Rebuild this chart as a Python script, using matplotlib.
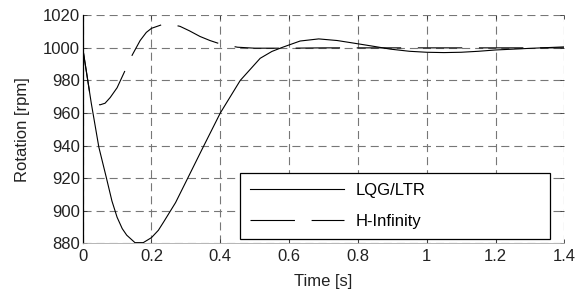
import matplotlib
matplotlib.use('Agg')
import matplotlib.pyplot as plt

plt.rcParams['font.family'] = ['Liberation Sans', 'DejaVu Sans']
plt.rcParams['lines.scale_dashes'] = False

# LQG/LTR response
t_lqg = [0, 0.025, 0.047, 0.068, 0.085, 0.1, 0.115, 0.128, 0.152, 0.176, 0.2, 0.22,
         0.235, 0.27, 0.303, 0.35, 0.4, 0.458, 0.516, 0.55, 0.579, 0.632, 0.686,
         0.74, 0.797, 0.85, 0.895, 0.95, 1.0, 1.05, 1.1, 1.15, 1.2, 1.3, 1.4]
rpm_lqg = [1000, 966, 939, 921, 906, 896, 889, 885, 880.4, 880.4, 883.5, 888,
           893, 905, 919, 939, 960, 980, 993.6, 997.8, 1000.2, 1004.2, 1005.5,
           1004.5, 1002.6, 1000.8, 999.2, 997.9, 997.3, 997.1, 997.3, 997.9, 998.7, 999.7, 1000.6]

# H-Infinity response
t_hinf = [0, 0.02, 0.035, 0.05, 0.065, 0.08, 0.1, 0.123, 0.144, 0.167, 0.185, 0.2,
          0.234, 0.26, 0.283, 0.31, 0.341, 0.37, 0.4, 0.45, 0.5, 0.6, 0.7, 0.8,
          1.0, 1.2, 1.4]
rpm_hinf = [1000, 973, 966.5, 965, 966, 969.5, 975.5, 986, 995.6, 1004.5, 1009.5, 1012,
            1014.5, 1014.3, 1013.2, 1010.5, 1007, 1004.5, 1002.4, 1000.4, 999.8, 999.8, 1000, 1000,
            1000, 1000, 1000]

xticks = [0, 0.2, 0.4, 0.6, 0.8, 1, 1.2, 1.4]
xticklabels = ['0', '0.2', '0.4', '0.6', '0.8', '1', '1.2', '1.4']
yticks = [880, 900, 920, 940, 960, 980, 1000, 1020]

fig = plt.figure(figsize=(5.75, 2.94), dpi=100)
ax = fig.add_axes([0.1438, 0.1724, 0.8376, 0.7756])

ax.plot(t_lqg, rpm_lqg, color='black', lw=0.8, label='LQG/LTR')
ax.plot(t_hinf, rpm_hinf, color='black', lw=0.8, dashes=(32, 12), label='H-Infinity')

ax.set_xlim(0, 1.4)
ax.set_ylim(880, 1020)
ax.set_xticks(xticks)
ax.set_xticklabels(xticklabels)
ax.set_yticks(yticks)
ax.tick_params(direction='in', length=3, width=0.6, labelsize=12, color='#333333',
               labelcolor='#222222', top=True, right=True, pad=2)
ax.tick_params(axis='x', pad=4)

ax.grid(True, color='#777777', lw=0.8, dashes=(5.8, 3.6))
for s in ['top', 'right']:
    ax.spines[s].set_visible(False)
ax.spines['left'].set_linewidth(0.9)
ax.spines['bottom'].set_color('#aaaaaa')
ax.spines['bottom'].set_linewidth(0.6)

ax.set_xlabel('Time [s]', fontsize=12, labelpad=7, color='#222222')
ax.set_ylabel('Rotation [rpm]', fontsize=12, labelpad=9, color='#222222')

leg = ax.legend(loc='lower left', bbox_to_anchor=(0.327, 0.0175, 0.643, 0.30),
                mode='expand', borderaxespad=0, fontsize=12, handlelength=5.6,
                handletextpad=0.7, labelspacing=1.0, borderpad=0.6,
                fancybox=False, framealpha=1)
leg.get_frame().set_edgecolor('black')
leg.get_frame().set_linewidth(0.9)

fig.savefig('out.png', dpi=100, facecolor='white')
